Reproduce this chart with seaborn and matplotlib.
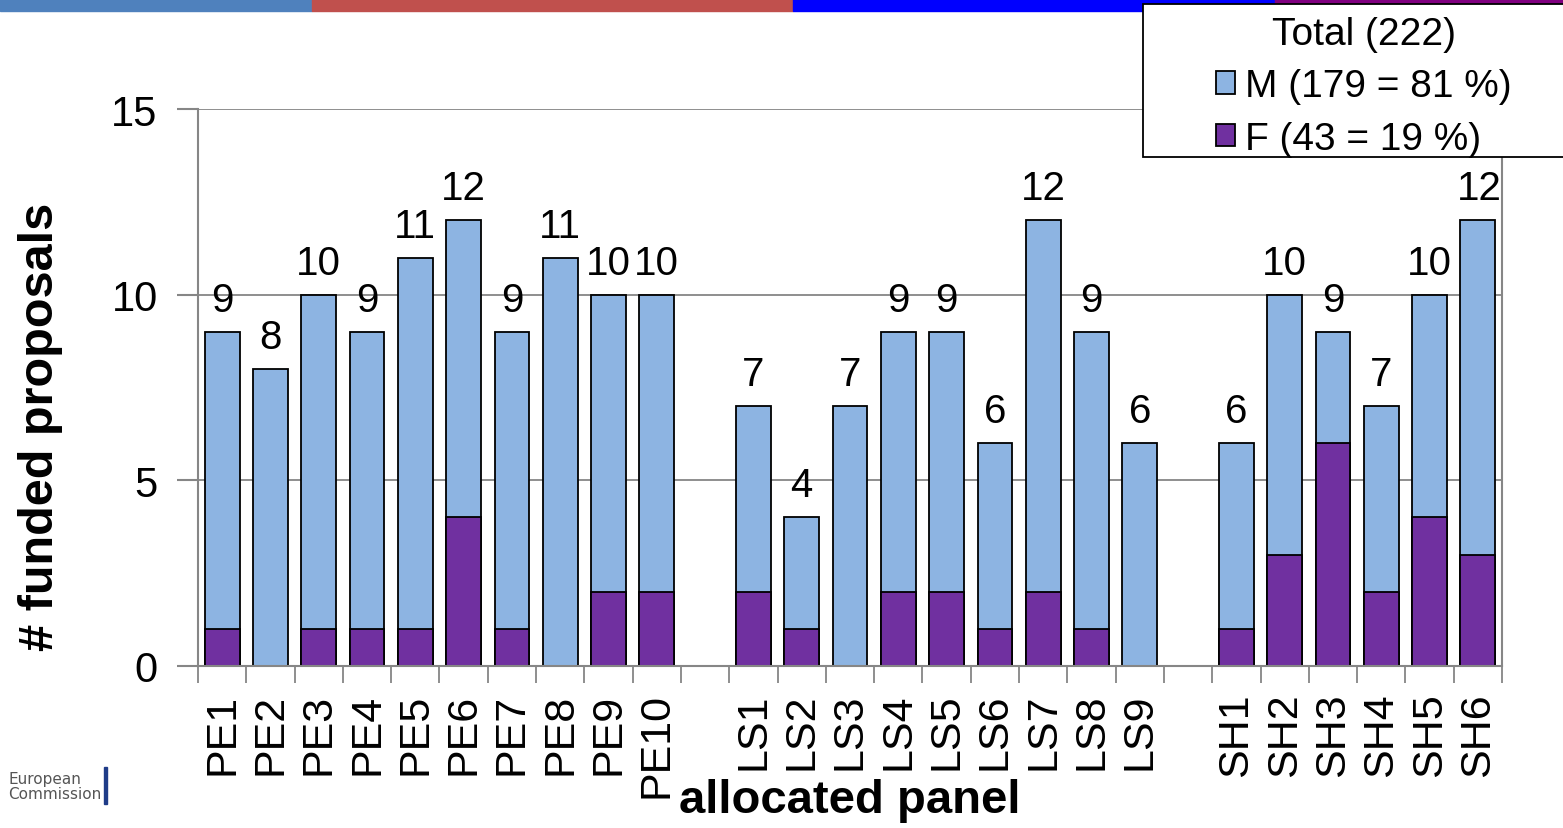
import matplotlib
matplotlib.use("Agg")
import matplotlib.pyplot as plt
import matplotlib.patches as mpatches
import numpy as np
import pandas as pd
import seaborn as sns

# funded proposals per allocated panel, split by gender

panels = ["PE1", "PE2", "PE3", "PE4", "PE5", "PE6", "PE7", "PE8", "PE9", "PE10",
          "LS1", "LS2", "LS3", "LS4", "LS5", "LS6", "LS7", "LS8", "LS9",
          "SH1", "SH2", "SH3", "SH4", "SH5", "SH6"]
totals = [9, 8, 10, 9, 11, 12, 9, 11, 10, 10,
          7, 4, 7, 9, 9, 6, 12, 9, 6,
          6, 10, 9, 7, 10, 12]
female = [1, 0, 1, 1, 1, 4, 1, 0, 2, 2,
          2, 1, 0, 2, 2, 1, 2, 1, 0,
          1, 3, 6, 2, 4, 3]
legend_title = "Total (222)"
legend_labels = ["M (179 = 81 %)", "F (43 = 19 %)"]

# empty slots between the domains
order = panels[:10] + [" "] + panels[10:19] + ["  "] + panels[19:]

df = pd.DataFrame({"panel": panels, "total": totals, "F": female})

sns.set_style("white")
plt.rcParams["font.family"] = ["Liberation Sans", "DejaVu Sans"]
plt.rcParams["text.color"] = "black"
plt.rcParams["axes.labelcolor"] = "black"

c_m = "#8DB4E2"
c_f = "#7030A0"
grey = "#868686"

fig = plt.figure(figsize=(15.63, 8.29), dpi=100)
ax = fig.add_axes([198 / 1563, 1 - 667 / 829, 1304 / 1563, 557 / 829])

sns.barplot(data=df, x="panel", y="total", order=order, color=c_m, saturation=1,
            edgecolor="black", linewidth=1.3, width=0.72, ax=ax)
sns.barplot(data=df, x="panel", y="F", order=order, color=c_f, saturation=1,
            edgecolor="black", linewidth=1.3, width=0.72, ax=ax)

for i, p in enumerate(order):
    if p.strip():
        t = totals[panels.index(p)]
        if i == len(order) - 1:
            ax.text(i + 0.5, t + 0.35, str(t), ha="right", va="bottom", fontsize=29)
        else:
            ax.text(i, t + 0.35, str(t), ha="center", va="bottom", fontsize=29)

ax.set_xlim(-0.5, len(order) - 0.5)
ax.set_ylim(0, 15)
ax.set_yticks([0, 5, 10, 15])
ax.tick_params(axis="y", labelsize=30, length=15, width=1.5, color=grey, labelcolor="black",
               direction="out", left=True, pad=14)
ax.set_xticks(range(len(order)))
ax.set_xticklabels(order, rotation=90, fontsize=31)
ax.tick_params(axis="x", length=0, pad=19, labelcolor="black")
ax.set_xticks(np.arange(-0.5, len(order), 1), minor=True)
ax.tick_params(axis="x", which="minor", length=12, color=grey, width=1.3, bottom=True)
ax.yaxis.grid(True, color=grey, linewidth=1.3)
ax.set_axisbelow(True)
ax.spines["top"].set_visible(False)
for s in ["left", "bottom", "right"]:
    ax.spines[s].set_color(grey)
    ax.spines[s].set_linewidth(1.5)

ax.set_xlabel("allocated panel", fontsize=34, fontweight="bold", va="center")
ax.xaxis.set_label_coords(0.5, (667 - 801) / 557)
ax.set_ylabel("# funded proposals", fontsize=35, fontweight="bold", va="center")
ax.yaxis.set_label_coords((40 - 198) / 1304, (667 - 427) / 557)

# legend box runs off the right edge
fig.patches.append(mpatches.Rectangle((1143 / 1563, 1 - 158 / 829), 440 / 1563, 153 / 829,
                                      transform=fig.transFigure, facecolor="white",
                                      edgecolor="black", linewidth=1.3, zorder=5))
handles = [mpatches.Patch(facecolor=c_m, edgecolor="black", linewidth=1.3),
           mpatches.Patch(facecolor=c_f, edgecolor="black", linewidth=1.3)]
leg = fig.legend(handles, legend_labels, title=legend_title, loc="upper left",
                 bbox_to_anchor=(1216 / 1563, 1 - 17 / 829), fontsize=28, title_fontsize=28,
                 frameon=False, handlelength=0.5, handleheight=0.5,
                 handletextpad=0.25, borderpad=0, labelspacing=0.42, borderaxespad=0)
leg.set_zorder(6)

# header stripe
stripe = [(0, 312, "#4F81BD"), (312, 793, "#C0504D"), (793, 1275, "#0000FF"), (1275, 1563, "#800080")]
for x0, x1, c in stripe:
    fig.patches.append(mpatches.Rectangle((x0 / 1563, 1 - 12 / 829), (x1 - x0) / 1563, 12 / 829,
                                          transform=fig.transFigure, color=c, zorder=0))

fig.text(8 / 1563, 1 - 787 / 829, "European\nCommission", fontsize=11, color="#555555",
         va="center", ha="left", linespacing=1.0, family=["DejaVu Sans"])
fig.patches.append(mpatches.Rectangle((104 / 1563, 1 - 805 / 829), 3 / 1563, 37 / 829,
                                      transform=fig.transFigure, color="#1F3C88"))

fig.savefig("out.png", dpi=100)
